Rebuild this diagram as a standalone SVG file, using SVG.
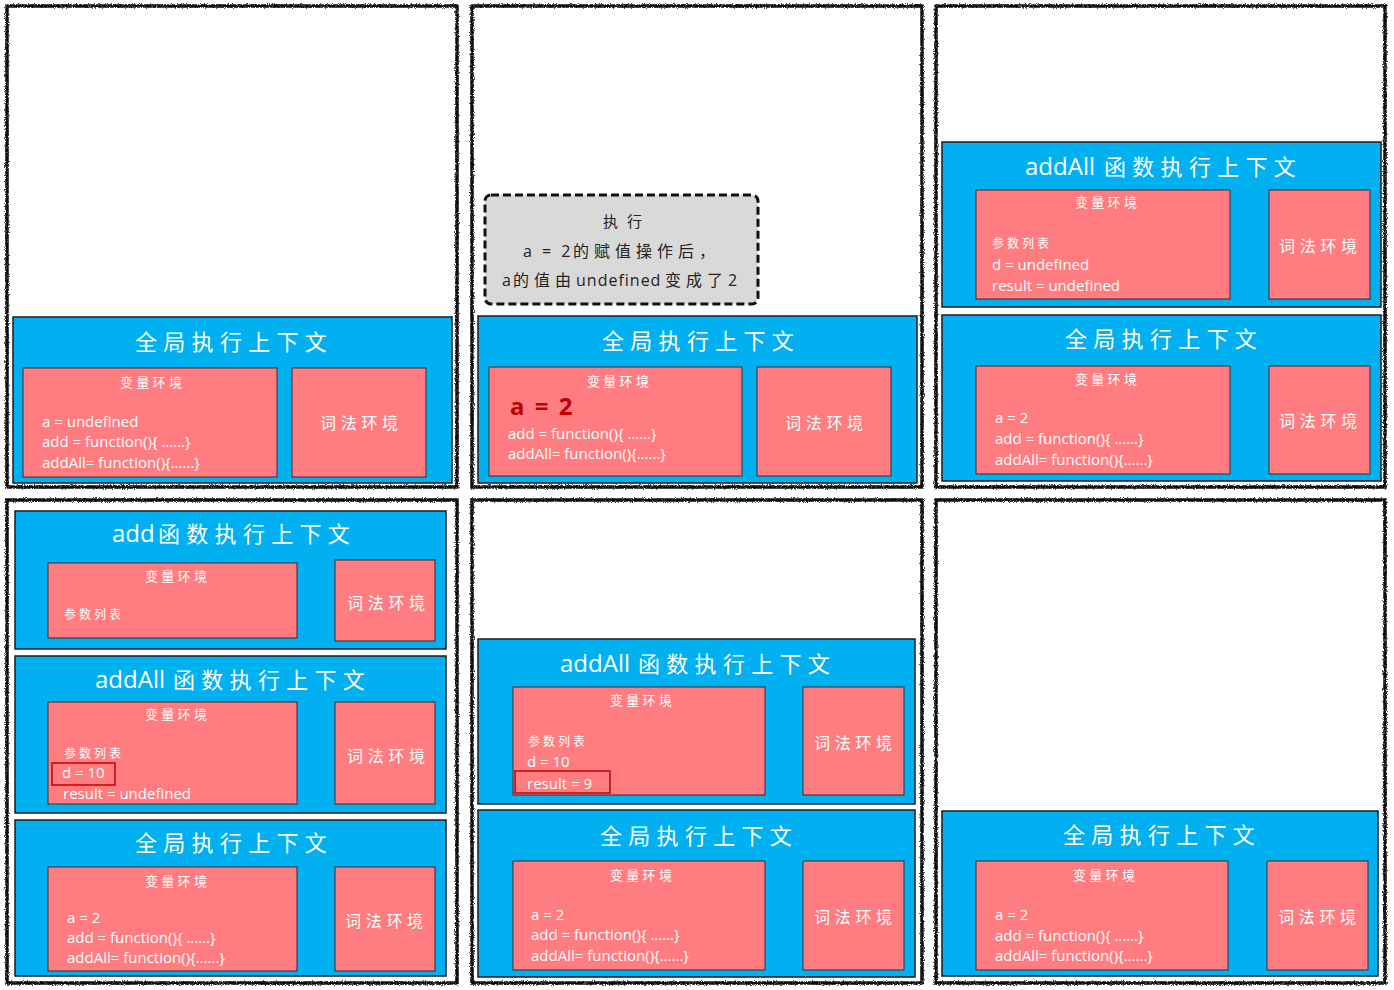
<svg xmlns="http://www.w3.org/2000/svg" width="1394" height="990" viewBox="0 0 1394 990">
<defs>
<filter id="rough" x="-3%" y="-3%" width="106%" height="106%">
<feTurbulence type="fractalNoise" baseFrequency="1.1" numOctaves="2" seed="4" result="n"/>
<feDisplacementMap in="SourceGraphic" in2="n" scale="3.5" xChannelSelector="R" yChannelSelector="G"/>
</filter>
<style>
.frame{fill:#fff;stroke:#111;stroke-width:3.5;filter:url(#rough)}
.ctx{fill:#00b0f0;stroke:#1b1b1b;stroke-width:1.5}
.env{fill:#ff7c80;stroke:#3a2a2a;stroke-width:1}
.hl{fill:none;stroke:#c00000;stroke-width:1.5}
.note{fill:#d9d9d9;stroke:#111;stroke-width:3;stroke-dasharray:8 4}
.title{font-family:"Noto Sans CJK SC",sans-serif;font-size:22px;fill:#fff;letter-spacing:6.3px}
.lat{font-family:"Open Sans","Noto Sans CJK SC",sans-serif;font-size:24px;letter-spacing:0}
.lbl{font-family:"Noto Sans CJK SC",sans-serif;font-size:13px;fill:#fff;letter-spacing:3.3px}
.lex{font-size:16px;letter-spacing:4.7px}
.param{font-size:12px;letter-spacing:3px}
.code{font-family:"Open Sans","Noto Sans CJK SC",sans-serif;font-size:15px;fill:#fff}
.ntext{font-family:"Open Sans","Noto Sans CJK SC",sans-serif;font-size:16px;fill:#222}
.cj{font-family:"Noto Sans CJK SC",sans-serif;letter-spacing:5px}
.big{font-family:"Open Sans",sans-serif;font-size:24px;font-weight:bold;fill:#c00000;letter-spacing:2px}
</style>
</defs>

<g id="frames">
<rect class="frame" x="7" y="6" width="450" height="481"/>
<rect class="frame" x="472" y="6" width="450" height="481"/>
<rect class="frame" x="936" y="6" width="449" height="481"/>
<rect class="frame" x="7" y="500" width="450" height="483"/>
<rect class="frame" x="472" y="500" width="450" height="483"/>
<rect class="frame" x="936" y="500" width="449" height="483"/>
</g>

<g id="connectors"/>

<!-- Panel 1 -->
<g id="p1-global">
<rect class="ctx" x="13" y="317" width="439" height="166"/>
<text class="title" x="135" y="350">全局执行上下文</text>
<g id="p1-var">
<rect class="env" x="23" y="368" width="254" height="109"/>
<text class="lbl" x="120" y="387">变量环境</text>
<text class="code" x="42" y="427">a = undefined</text>
<text class="code" x="42" y="447">add = function(){ ......}</text>
<text class="code" x="42" y="468">addAll= function(){......}</text>
</g>
<g id="p1-lex">
<rect class="env" x="292" y="368" width="134" height="109"/>
<text class="lbl lex" x="320" y="429">词法环境</text>
</g>
</g>

<!-- Panel 2 -->
<g id="p2-note">
<rect class="note" x="485" y="195" width="273" height="109" rx="6"/>
<text class="ntext cj" x="603" y="227" style="font-size:15px;letter-spacing:9px">执行</text>
<text class="ntext" y="257"><tspan x="523" style="letter-spacing:3px">a = 2</tspan><tspan class="cj" x="573">的赋值操作后，</tspan></text>
<text class="ntext" y="286"><tspan x="502">a</tspan><tspan class="cj" x="513">的值由</tspan><tspan x="576" style="letter-spacing:1px">undefined</tspan><tspan class="cj" x="665">变成了</tspan><tspan x="728">2</tspan></text>
</g>
<g id="p2-global">
<rect class="ctx" x="478" y="316" width="439" height="167"/>
<text class="title" x="602" y="349">全局执行上下文</text>
<g id="p2-var">
<rect class="env" x="489" y="367" width="253" height="109"/>
<text class="lbl" x="587" y="386">变量环境</text>
<text class="big" x="510" y="415">a = 2</text>
<text class="code" x="508" y="439">add = function(){ ......}</text>
<text class="code" x="508" y="459">addAll= function(){......}</text>
</g>
<g id="p2-lex">
<rect class="env" x="757" y="367" width="134" height="109"/>
<text class="lbl lex" x="785" y="429">词法环境</text>
</g>
</g>

<!-- Panel 3 -->
<g id="p3-addall">
<rect class="ctx" x="942" y="142" width="439" height="165"/>
<text class="title" x="1025" y="175"><tspan class="lat">addAll</tspan><tspan x="1104">函数执行上下文</tspan></text>
<g id="p3-addall-var">
<rect class="env" x="976" y="190" width="254" height="109"/>
<text class="lbl" x="1075" y="207">变量环境</text>
<text class="lbl param" x="992" y="248">参数列表</text>
<text class="code" x="992" y="270">d = undefined</text>
<text class="code" x="992" y="291">result = undefined</text>
</g>
<g id="p3-addall-lex">
<rect class="env" x="1269" y="190" width="101" height="109"/>
<text class="lbl lex" x="1279" y="252">词法环境</text>
</g>
</g>
<g id="p3-global">
<rect class="ctx" x="942" y="315" width="439" height="166"/>
<text class="title" x="1065" y="347">全局执行上下文</text>
<g id="p3-var">
<rect class="env" x="976" y="366" width="254" height="108"/>
<text class="lbl" x="1075" y="384">变量环境</text>
<text class="code" x="995" y="423">a = 2</text>
<text class="code" x="995" y="444">add = function(){ ......}</text>
<text class="code" x="995" y="465">addAll= function(){......}</text>
</g>
<g id="p3-lex">
<rect class="env" x="1269" y="366" width="101" height="108"/>
<text class="lbl lex" x="1279" y="427">词法环境</text>
</g>
</g>

<!-- Panel 4 -->
<g id="p4-add">
<rect class="ctx" x="15" y="511" width="431" height="138"/>
<text class="title" x="112" y="542"><tspan class="lat">add</tspan><tspan x="158">函数执行上下文</tspan></text>
<g id="p4-add-var">
<rect class="env" x="48" y="563" width="249" height="75"/>
<text class="lbl" x="145" y="581">变量环境</text>
<text class="lbl param" x="64" y="619">参数列表</text>
</g>
<g id="p4-add-lex">
<rect class="env" x="335" y="560" width="100" height="81"/>
<text class="lbl lex" x="347" y="609">词法环境</text>
</g>
</g>
<g id="p4-addall">
<rect class="ctx" x="15" y="656" width="431" height="157"/>
<text class="title" x="95" y="688"><tspan class="lat">addAll</tspan><tspan x="173">函数执行上下文</tspan></text>
<g id="p4-addall-var">
<rect class="env" x="48" y="702" width="249" height="102"/>
<text class="lbl" x="145" y="719">变量环境</text>
<text class="lbl param" x="64" y="758">参数列表</text>
<rect class="hl" x="52" y="763" width="63" height="22"/>
<text class="code" x="62" y="778">d = 10</text>
<text class="code" x="63" y="799">result = undefined</text>
</g>
<g id="p4-addall-lex">
<rect class="env" x="335" y="702" width="100" height="102"/>
<text class="lbl lex" x="347" y="762">词法环境</text>
</g>
</g>
<g id="p4-global">
<rect class="ctx" x="15" y="820" width="431" height="156"/>
<text class="title" x="135" y="851">全局执行上下文</text>
<g id="p4-var">
<rect class="env" x="48" y="867" width="249" height="104"/>
<text class="lbl" x="145" y="886">变量环境</text>
<text class="code" x="67" y="923">a = 2</text>
<text class="code" x="67" y="943">add = function(){ ......}</text>
<text class="code" x="67" y="963">addAll= function(){......}</text>
</g>
<g id="p4-lex">
<rect class="env" x="335" y="867" width="100" height="104"/>
<text class="lbl lex" x="345" y="927">词法环境</text>
</g>
</g>

<!-- Panel 5 -->
<g id="p5-addall">
<rect class="ctx" x="478" y="639" width="437" height="165"/>
<text class="title" x="560" y="672"><tspan class="lat">addAll</tspan><tspan x="638">函数执行上下文</tspan></text>
<g id="p5-addall-var">
<rect class="env" x="513" y="687" width="252" height="108"/>
<text class="lbl" x="610" y="705">变量环境</text>
<text class="lbl param" x="528" y="746">参数列表</text>
<text class="code" x="527" y="767">d = 10</text>
<rect class="hl" x="515" y="771" width="95" height="22"/>
<text class="code" x="527" y="789">result = 9</text>
</g>
<g id="p5-addall-lex">
<rect class="env" x="803" y="687" width="101" height="108"/>
<text class="lbl lex" x="814" y="749">词法环境</text>
</g>
</g>
<g id="p5-global">
<rect class="ctx" x="478" y="810" width="437" height="167"/>
<text class="title" x="600" y="844">全局执行上下文</text>
<g id="p5-var">
<rect class="env" x="513" y="861" width="252" height="109"/>
<text class="lbl" x="610" y="880">变量环境</text>
<text class="code" x="531" y="920">a = 2</text>
<text class="code" x="531" y="940">add = function(){ ......}</text>
<text class="code" x="531" y="961">addAll= function(){......}</text>
</g>
<g id="p5-lex">
<rect class="env" x="803" y="861" width="101" height="109"/>
<text class="lbl lex" x="814" y="923">词法环境</text>
</g>
</g>

<!-- Panel 6 -->
<g id="p6-global">
<rect class="ctx" x="942" y="811" width="436" height="165"/>
<text class="title" x="1063" y="843">全局执行上下文</text>
<g id="p6-var">
<rect class="env" x="976" y="861" width="252" height="109"/>
<text class="lbl" x="1073" y="880">变量环境</text>
<text class="code" x="995" y="920">a = 2</text>
<text class="code" x="995" y="941">add = function(){ ......}</text>
<text class="code" x="995" y="961">addAll= function(){......}</text>
</g>
<g id="p6-lex">
<rect class="env" x="1267" y="861" width="101" height="109"/>
<text class="lbl lex" x="1278" y="923">词法环境</text>
</g>
</g>
</svg>
